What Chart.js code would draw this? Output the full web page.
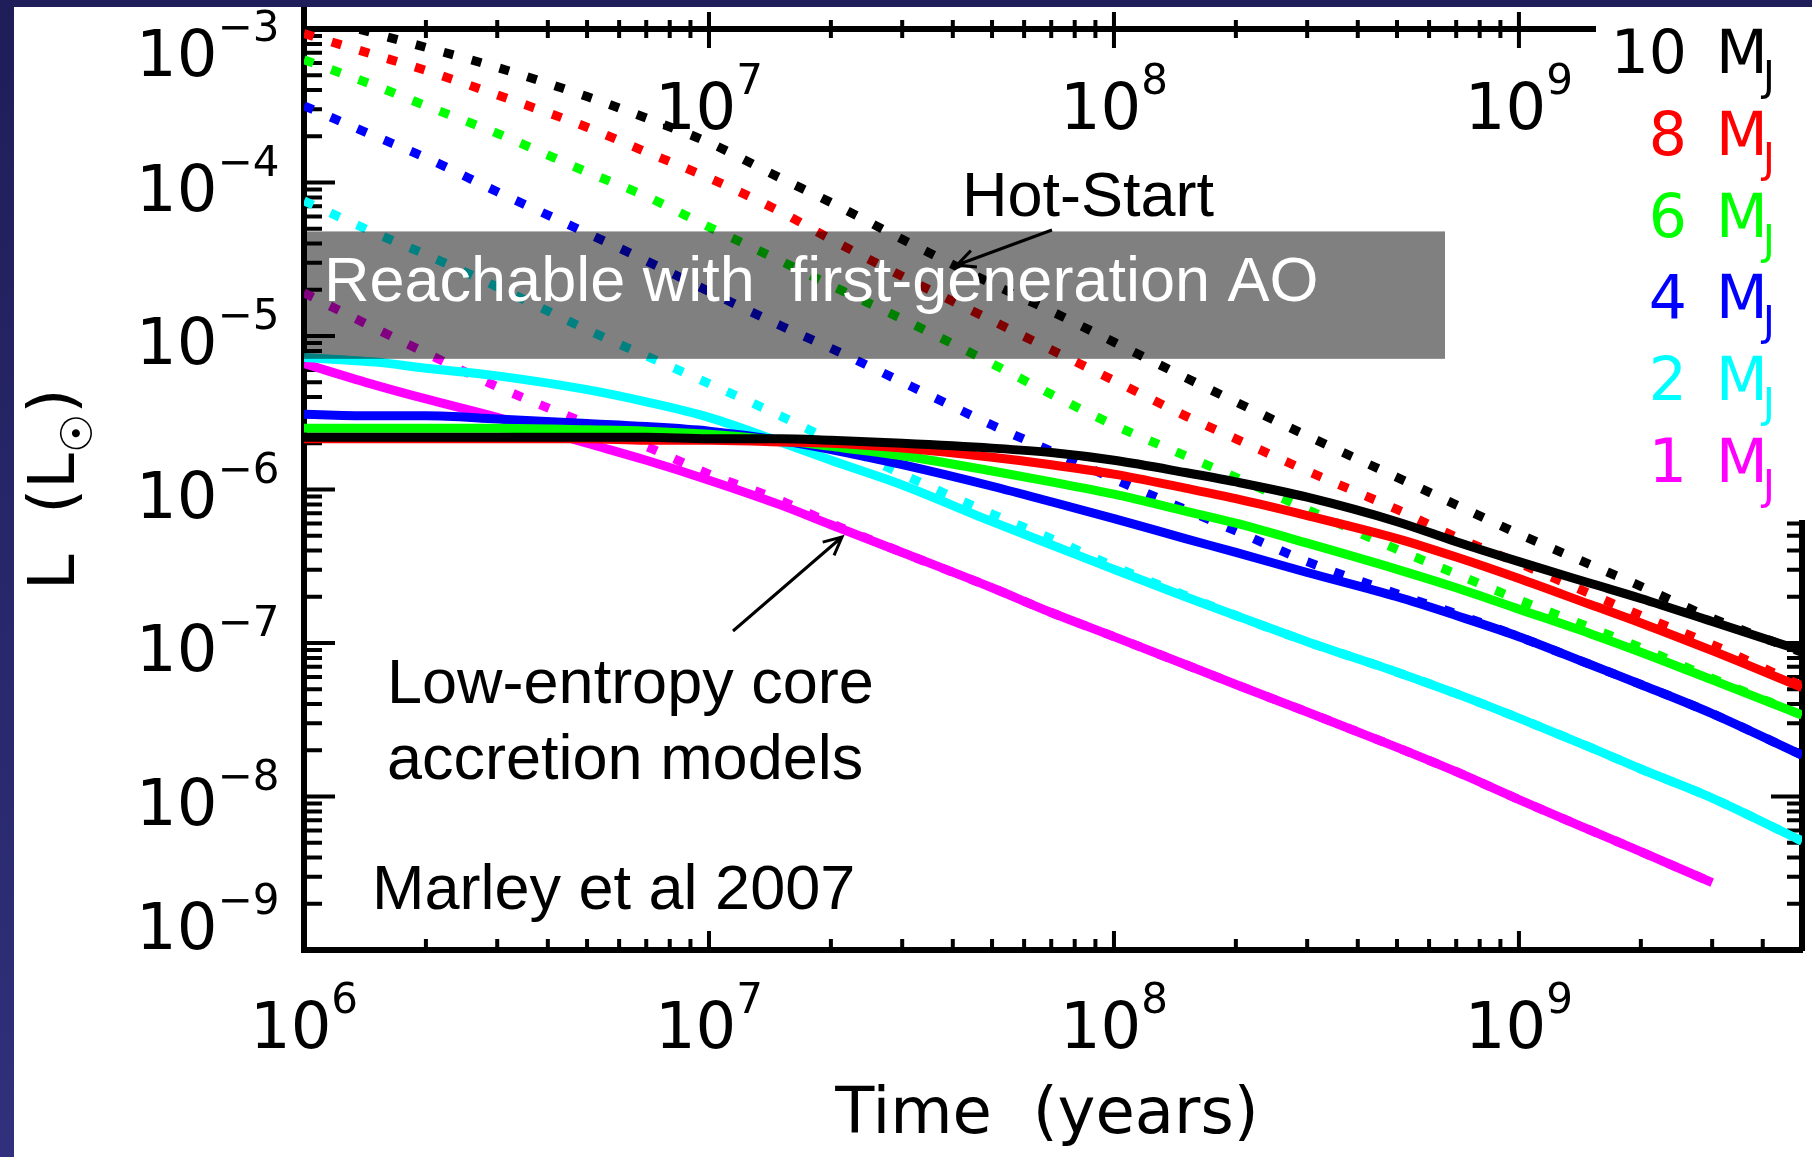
<!DOCTYPE html>
<html>
<head>
<meta charset="utf-8">
<title>Luminosity vs time, hot-start and core accretion</title>
<script src="https://cdn.jsdelivr.net/npm/chart.js"></script>
<style>
  html, body { margin: 0; padding: 0; background: #fff; overflow: hidden; }
  canvas { display: block; }
</style>
</head>
<body>
<canvas id="coolingchart" width="1812" height="1157"></canvas>
<script>
// ages in years, shared by every curve
const ages = [1e6, 1.5e6, 2e6, 3e6, 5e6, 7e6, 1e7, 1.5e7, 2e7, 3e7, 5e7, 7e7,
  1e8, 1.5e8, 2e8, 3e8, 5e8, 7e8, 1e9, 1.5e9, 2e9, 3e9, 5e9];

// luminosity (L_sun), hot-start models (dotted)
const hotStart10 = [1.26e-3, 9.33e-4, 7.59e-4, 5.62e-4, 3.63e-4, 2.63e-4, 1.82e-4, 1.07e-4, 7.41e-5, 4.27e-5, 2.19e-5, 1.45e-5,
  9.12e-6, 5.37e-6, 3.72e-6, 2.24e-6, 1.20e-6, 7.94e-7, 5.13e-7, 3.24e-7, 2.34e-7, 1.45e-7, 8.71e-8];
const hotStart8 = [9.33e-4, 6.76e-4, 5.37e-4, 3.72e-4, 2.29e-4, 1.58e-4, 1.07e-4, 6.46e-5, 4.27e-5, 2.45e-5, 1.26e-5, 8.13e-6,
  5.13e-6, 3.02e-6, 2.14e-6, 1.32e-6, 7.41e-7, 4.90e-7, 3.31e-7, 2.09e-7, 1.51e-7, 9.77e-8, 5.25e-8];
const hotStart6 = [6.31e-4, 4.27e-4, 3.16e-4, 2.09e-4, 1.17e-4, 8.13e-5, 5.13e-5, 3.09e-5, 2.14e-5, 1.29e-5, 6.61e-6, 4.17e-6,
  2.63e-6, 1.66e-6, 1.20e-6, 7.41e-7, 4.07e-7, 2.82e-7, 1.91e-7, 1.26e-7, 9.33e-8, 5.89e-8, 3.39e-8];
const hotStart4 = [3.16e-4, 2.00e-4, 1.45e-4, 8.71e-5, 4.68e-5, 3.09e-5, 1.95e-5, 1.17e-5, 8.32e-6, 5.01e-6, 2.63e-6, 1.78e-6,
  1.17e-6, 7.41e-7, 5.37e-7, 3.39e-7, 2.09e-7, 1.55e-7, 1.10e-7, 7.24e-8, 5.37e-8, 3.47e-8, 1.86e-8];
const hotStart2 = [7.59e-5, 4.68e-5, 3.39e-5, 2.09e-5, 1.10e-5, 7.41e-6, 4.90e-6, 3.02e-6, 2.09e-6, 1.26e-6, 6.92e-7, 4.79e-7,
  3.16e-7, 2.04e-7, 1.51e-7, 1.02e-7, 6.46e-8, 4.68e-8, 3.24e-8, 2.09e-8, 1.51e-8, 9.77e-9, 5.13e-9];
const hotStart1 = [1.91e-5, 1.12e-5, 7.76e-6, 4.68e-6, 2.69e-6, 1.91e-6, 1.26e-6, 8.51e-7, 6.03e-7, 3.89e-7, 2.29e-7, 1.58e-7,
  1.10e-7, 7.24e-8, 5.37e-8, 3.55e-8, 2.09e-8, 1.45e-8, 9.55e-9, 6.03e-9, 4.37e-9, 2.75e-9, null];

// low-entropy core accretion models (solid)
const coldStart10 = [2.19e-6, 2.19e-6, 2.19e-6, 2.19e-6, 2.19e-6, 2.19e-6, 2.14e-6, 2.14e-6, 2.09e-6, 2.00e-6, 1.86e-6, 1.74e-6,
  1.55e-6, 1.29e-6, 1.12e-6, 8.91e-7, 6.17e-7, 4.57e-7, 3.39e-7, 2.45e-7, 1.95e-7, 1.38e-7, 8.91e-8];
const coldStart8 = [2.14e-6, 2.14e-6, 2.14e-6, 2.14e-6, 2.14e-6, 2.09e-6, 2.09e-6, 2.04e-6, 2.00e-6, 1.86e-6, 1.62e-6, 1.45e-6,
  1.26e-6, 1.02e-6, 8.71e-7, 6.76e-7, 4.79e-7, 3.63e-7, 2.63e-7, 1.78e-7, 1.35e-7, 8.91e-8, 5.13e-8];
const coldStart6 = [2.51e-6, 2.51e-6, 2.51e-6, 2.51e-6, 2.45e-6, 2.40e-6, 2.29e-6, 2.09e-6, 1.91e-6, 1.66e-6, 1.32e-6, 1.12e-6,
  9.33e-7, 7.24e-7, 6.03e-7, 4.47e-7, 3.02e-7, 2.29e-7, 1.66e-7, 1.15e-7, 8.71e-8, 5.75e-8, 3.39e-8];
const coldStart4 = [3.09e-6, 3.02e-6, 3.02e-6, 2.88e-6, 2.69e-6, 2.57e-6, 2.40e-6, 2.09e-6, 1.82e-6, 1.45e-6, 1.05e-6, 8.32e-7,
  6.46e-7, 4.79e-7, 3.89e-7, 2.88e-7, 2.00e-7, 1.51e-7, 1.10e-7, 7.24e-8, 5.37e-8, 3.47e-8, 1.86e-8];
const coldStart2 = [7.24e-6, 6.76e-6, 6.17e-6, 5.50e-6, 4.47e-6, 3.72e-6, 2.95e-6, 2.04e-6, 1.55e-6, 1.07e-6, 6.17e-7, 4.37e-7,
  3.02e-7, 2.00e-7, 1.51e-7, 1.02e-7, 6.46e-8, 4.68e-8, 3.24e-8, 2.09e-8, 1.51e-8, 9.77e-9, 5.13e-9];
const coldStart1 = [6.61e-6, 4.79e-6, 3.89e-6, 2.95e-6, 2.00e-6, 1.55e-6, 1.15e-6, 7.94e-7, 5.89e-7, 3.89e-7, 2.29e-7, 1.58e-7,
  1.10e-7, 7.24e-8, 5.37e-8, 3.55e-8, 2.09e-8, 1.45e-8, 9.55e-9, 6.03e-9, 4.37e-9, 2.75e-9, null];

const masses = ["1", "2", "4", "6", "8", "10"];
const massColors = ["#ff00ff", "#00ffff", "#0000ff", "#00ff00", "#ff0000", "#000000"];
const hotCurves = [hotStart1, hotStart2, hotStart4, hotStart6, hotStart8, hotStart10];
const coldCurves = [coldStart1, coldStart2, coldStart4, coldStart6, coldStart8, coldStart10];

// legend is listed top to bottom, heaviest first
const legendMasses = ["10", "8", "6", "4", "2", "1"];
const legendColors = ["#000000", "#ff0000", "#00ff00", "#0000ff", "#00ffff", "#ff00ff"];

// axis ranges and labelled ticks
const timeMin = 1e6, timeMax = 5e9;
const lumMin = 1e-9, lumMax = 1e-3;
const bottomTicks = [1e6, 1e7, 1e8, 1e9];
const bottomTickExp = ["6", "7", "8", "9"];
const topTicks = [1e7, 1e8, 1e9];
const topTickExp = ["7", "8", "9"];
const lumTicks = [1e-3, 1e-4, 1e-5, 1e-6, 1e-7, 1e-8, 1e-9];
const lumTickExp = ["\u22123", "\u22124", "\u22125", "\u22126", "\u22127", "\u22128", "\u22129"];

// shaded band limits (L_sun)
const aoBandTop = 4.8e-5;
const aoBandBottom = 7.1e-6;

const xTitle = "Time  (years)";
const boxText = "Reachable with  first-generation AO";
const hotNote = "Hot-Start";
const coldNote = ["Low-entropy core", "accretion models"];
const sourceNote = "Marley et al 2007";

const AXIS_FONT = "'DejaVu Sans', sans-serif";
const NOTE_FONT = "'Liberation Sans', Arial, sans-serif";

const toPoints = (values) =>
  ages.map((t, i) => ({ x: t, y: values[i] })).filter((p) => p.y !== null);

// chart.js paints the first dataset on top, so heaviest mass goes first
const datasets = [];
for (let i = masses.length - 1; i >= 0; i--) {
  datasets.push({
    label: masses[i] + " MJ hot start",
    data: toPoints(hotCurves[i]),
    borderColor: massColors[i],
    borderWidth: 9,
    borderDash: [10, 19],
    borderCapStyle: "butt",
    cubicInterpolationMode: "monotone",
    pointRadius: 0,
  });
  datasets.push({
    label: masses[i] + " MJ core accretion",
    data: toPoints(coldCurves[i]),
    borderColor: massColors[i],
    borderWidth: 9,
    borderCapStyle: "butt",
    cubicInterpolationMode: "monotone",
    pointRadius: 0,
  });
}

const logTicks = (min, max) => {
  const out = [];
  for (let e = Math.floor(Math.log10(min)); e <= Math.ceil(Math.log10(max)); e++) {
    for (let k = 1; k <= 9; k++) {
      const v = k * Math.pow(10, e);
      if (v >= min * 0.999 && v <= max * 1.001) out.push({ v, major: k === 1 });
    }
  }
  return out;
};

const drawArrow = (ctx, x0, y0, x1, y1) => {
  const ang = Math.atan2(y1 - y0, x1 - x0);
  const head = 20;
  ctx.beginPath();
  ctx.moveTo(x0, y0);
  ctx.lineTo(x1, y1);
  ctx.moveTo(x1 - head * Math.cos(ang - 0.45), y1 - head * Math.sin(ang - 0.45));
  ctx.lineTo(x1, y1);
  ctx.lineTo(x1 - head * Math.cos(ang + 0.45), y1 - head * Math.sin(ang + 0.45));
  ctx.stroke();
};

// "10" with a raised exponent
const drawPower = (ctx, exp, x, baseline, align) => {
  ctx.font = "64px " + AXIS_FONT;
  const wMain = ctx.measureText("10").width;
  ctx.font = "42px " + AXIS_FONT;
  const wExp = ctx.measureText(exp).width;
  let left = x;
  if (align === "center") left = x - (wMain + wExp) / 2;
  if (align === "right") left = x - wMain - wExp;
  ctx.textAlign = "left";
  ctx.textBaseline = "alphabetic";
  ctx.font = "64px " + AXIS_FONT;
  ctx.fillText("10", left, baseline);
  ctx.font = "42px " + AXIS_FONT;
  ctx.fillText(exp, left + wMain, baseline - 35);
};

const slidePlugin = {
  id: "slide",
  beforeDraw(chart) {
    const { ctx, width, height } = chart;
    ctx.save();
    ctx.fillStyle = "#ffffff";
    ctx.fillRect(0, 0, width, height);
    const g = ctx.createLinearGradient(0, 0, 0, height);
    g.addColorStop(0, "#1f1d58");
    g.addColorStop(1, "#30307c");
    ctx.fillStyle = g;
    ctx.fillRect(0, 0, 14, height);
    ctx.fillStyle = "#201e5a";
    ctx.fillRect(0, 0, width, 7);
    ctx.restore();
  },
  beforeDatasetsDraw(chart) {
    const { ctx, chartArea: a, scales } = chart;
    ctx.save();
    ctx.strokeStyle = "#000";
    ctx.lineWidth = 4;
    ctx.beginPath();
    logTicks(timeMin, timeMax).forEach(({ v, major }) => {
      const x = scales.x.getPixelForValue(v);
      ctx.moveTo(x, a.bottom);
      ctx.lineTo(x, a.bottom - (major ? 19 : 11));
      ctx.moveTo(x, a.top - (major ? 17 : 9));
      ctx.lineTo(x, a.top + (major ? 19 : 9));
    });
    logTicks(lumMin, lumMax).forEach(({ v, major }) => {
      const y = scales.y.getPixelForValue(v);
      ctx.moveTo(a.left, y);
      ctx.lineTo(a.left + (major ? 31 : 18), y);
      ctx.moveTo(a.right, y);
      ctx.lineTo(a.right - (major ? 31 : 15), y);
    });
    ctx.stroke();
    ctx.restore();
  },
  afterDraw(chart) {
    const { ctx, chartArea: a, scales } = chart;
    ctx.save();

    // left axis runs up to the slide edge
    ctx.fillStyle = "#000";
    ctx.fillRect(a.left - 3, 7, 6, a.top - 7);

    // shaded detection band
    const boxTop = scales.y.getPixelForValue(aoBandTop);
    const boxBottom = scales.y.getPixelForValue(aoBandBottom);
    ctx.globalCompositeOperation = "multiply";
    ctx.fillStyle = "rgb(128,128,128)";
    ctx.fillRect(a.left, boxTop, 1141, boxBottom - boxTop);
    ctx.globalCompositeOperation = "source-over";
    ctx.fillStyle = "#ffffff";
    ctx.font = "63px " + NOTE_FONT;
    ctx.textAlign = "left";
    ctx.textBaseline = "alphabetic";
    ctx.fillText(boxText, a.left + 20, boxTop + 70);

    // annotations
    ctx.fillStyle = "#000";
    ctx.fillText(hotNote, 962, 216);
    ctx.fillText(coldNote[0], 387, 703);
    ctx.fillText(coldNote[1], 387, 779);
    ctx.fillText(sourceNote, 372, 909);
    ctx.strokeStyle = "#000";
    ctx.lineWidth = 3;
    drawArrow(ctx, 1052, 230, 957, 265);
    drawArrow(ctx, 733, 631, 842, 537);

    // legend panel hides the top-right corner of the frame
    ctx.fillStyle = "#ffffff";
    ctx.fillRect(1596, 7, 1812 - 1596, 513);
    legendMasses.forEach((m, i) => {
      const base = 73 + i * 81.8;
      ctx.fillStyle = legendColors[i];
      ctx.font = "60px " + AXIS_FONT;
      ctx.textAlign = "right";
      ctx.fillText(m, 1687, base);
      ctx.textAlign = "left";
      ctx.fillText("M", 1716, base);
      ctx.font = "40px " + AXIS_FONT;
      ctx.fillText("J", 1763, base + 17);
    });

    // tick labels
    ctx.fillStyle = "#000";
    bottomTicks.forEach((v, i) => {
      drawPower(ctx, bottomTickExp[i], scales.x.getPixelForValue(v), 1048, "center");
    });
    topTicks.forEach((v, i) => {
      drawPower(ctx, topTickExp[i], scales.x.getPixelForValue(v), a.top + 100, "center");
    });
    lumTicks.forEach((v, i) => {
      const y = scales.y.getPixelForValue(v);
      const mid = Math.min(Math.max(y + 5, a.top + 24), a.bottom - 24);
      drawPower(ctx, lumTickExp[i], 136, mid + 23, "left");
    });

    // axis titles
    ctx.font = "64px " + AXIS_FONT;
    ctx.textAlign = "center";
    ctx.fillText(xTitle, (a.left + a.right) / 2 - 6, 1133);

    ctx.translate(74, 590);
    ctx.rotate(-Math.PI / 2);
    ctx.textAlign = "left";
    ctx.font = "64px " + AXIS_FONT;
    const head = "L  (L";
    ctx.fillText(head, 0, 0);
    let px = ctx.measureText(head).width;
    ctx.font = "44px " + AXIS_FONT;
    ctx.fillText("\u2609", px, 18);
    px += ctx.measureText("\u2609").width;
    ctx.font = "64px " + AXIS_FONT;
    ctx.fillText(")", px, 0);

    ctx.restore();
  },
};

const hiddenAxis = (position) => ({
  type: "logarithmic",
  position: position,
  display: true,
  z: 1,
  grid: { display: false, drawTicks: false },
  ticks: { display: false },
  border: { display: true, width: 6, color: "#000" },
  afterFit: (scale) => {
    if (scale.isHorizontal()) scale.height = 0;
    else scale.width = 0;
  },
});

const ctx = document.getElementById("coolingchart").getContext("2d");
new Chart(ctx, {
  type: "line",
  data: { datasets: datasets },
  options: {
    responsive: false,
    animation: false,
    devicePixelRatio: 1,
    layout: { padding: { left: 304, top: 29, right: 10, bottom: 207 } },
    plugins: { legend: { display: false }, tooltip: { enabled: false } },
    scales: {
      x: { ...hiddenAxis("bottom"), min: timeMin, max: timeMax },
      x2: { ...hiddenAxis("top"), min: timeMin, max: timeMax },
      y: { ...hiddenAxis("left"), min: lumMin, max: lumMax },
      y2: { ...hiddenAxis("right"), min: lumMin, max: lumMax },
    },
  },
  plugins: [slidePlugin],
});
</script>
</body>
</html>
